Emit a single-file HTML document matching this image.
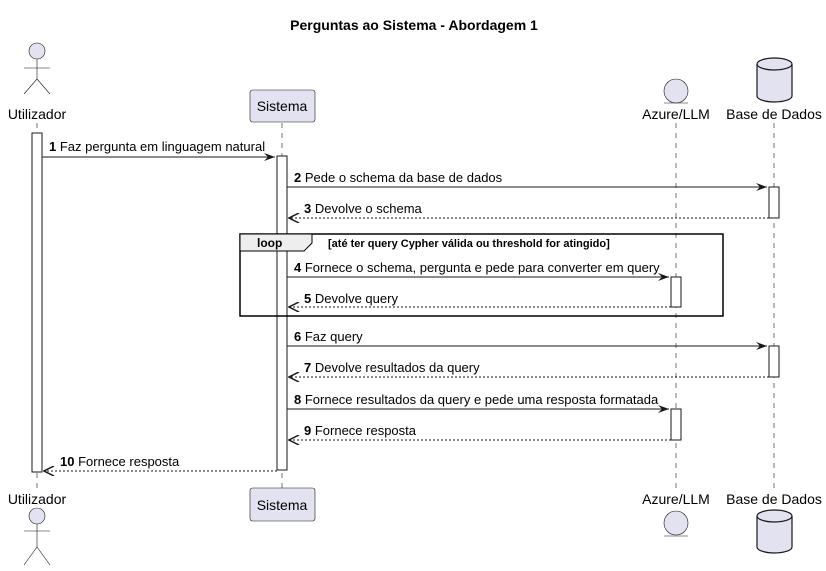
<!DOCTYPE html>
<html><head><meta charset="utf-8"><style>
html,body{margin:0;padding:0;background:#fff;}
svg{display:block;font-family:"Liberation Sans",sans-serif;}
</style></head><body>
<svg width="826" height="571" viewBox="0 0 826 571" xmlns="http://www.w3.org/2000/svg">
<defs>
<marker id="ah" markerWidth="12" markerHeight="10" refX="11" refY="5" orient="auto" markerUnits="userSpaceOnUse">
<path d="M0,1 L11,5 L0,9 L4,5 Z" fill="#181818"/>
</marker>
<marker id="ao" markerWidth="12" markerHeight="10" refX="11" refY="5" orient="auto" markerUnits="userSpaceOnUse">
<path d="M1,0 L11,5 L1,10" fill="none" stroke="#181818" stroke-width="1.5"/>
</marker>
</defs>
<text x="414" y="30" text-anchor="middle" font-size="14" font-weight="bold" fill="#000">Perguntas ao Sistema - Abordagem 1</text>

<g stroke="#181818" stroke-width="0.6" stroke-dasharray="5,5">
<line x1="37" y1="123" x2="37" y2="488"/>
<line x1="282" y1="123" x2="282" y2="488"/>
<line x1="676" y1="123" x2="676" y2="488"/>
<line x1="774" y1="123" x2="774" y2="488"/>
</g>

<g stroke="#181818" stroke-width="0.6" fill="#E2E2F0">
<circle cx="37" cy="51" r="8"/>
<line x1="37" y1="59" x2="37" y2="79"/>
<line x1="24" y1="68" x2="50" y2="68"/>
<line x1="37" y1="79" x2="24" y2="94"/>
<line x1="37" y1="79" x2="50" y2="94"/>
<rect x="250" y="90" width="65" height="32" rx="2.5"/>
<circle cx="676" cy="91" r="12"/>
<line x1="664" y1="103" x2="688" y2="103"/>
<path d="M757,64 A17.5,6 0 0 1 792,64 L792,96 A17.5,6 0 0 1 757,96 Z" stroke-width="1.2"/>
<path d="M757,64 A17.5,6 0 0 0 792,64" fill="none" stroke-width="1.2"/>
</g>
<g font-size="14" fill="#000" text-anchor="middle">
<text x="37" y="119">Utilizador</text>
<text x="282" y="111">Sistema</text>
<text x="676" y="119">Azure/LLM</text>
<text x="774" y="119">Base de Dados</text>
</g>

<g stroke="#181818" stroke-width="0.6" fill="#E2E2F0">
<circle cx="37" cy="516" r="8"/>
<line x1="37" y1="524" x2="37" y2="547"/>
<line x1="24" y1="531" x2="50" y2="531"/>
<line x1="37" y1="547" x2="24" y2="565"/>
<line x1="37" y1="547" x2="50" y2="565"/>
<rect x="250" y="488" width="65" height="33" rx="2.5"/>
<circle cx="676" cy="523" r="12"/>
<line x1="664" y1="536" x2="688" y2="536"/>
<path d="M757,516 A17.5,6 0 0 1 792,516 L792,547 A17.5,6 0 0 1 757,547 Z" stroke-width="1.2"/>
<path d="M757,516 A17.5,6 0 0 0 792,516" fill="none" stroke-width="1.2"/>
</g>
<g font-size="14" fill="#000" text-anchor="middle">
<text x="37" y="504">Utilizador</text>
<text x="282" y="510">Sistema</text>
<text x="676" y="504">Azure/LLM</text>
<text x="774" y="504">Base de Dados</text>
</g>

<g stroke="#181818" stroke-width="1" fill="#fff">
<rect x="32" y="133" width="10" height="339"/>
<rect x="277" y="156" width="10" height="314"/>
<rect x="769" y="187" width="10" height="31"/>
<rect x="769" y="346" width="10" height="31"/>
<rect x="671" y="277" width="10" height="30"/>
<rect x="671" y="409" width="10" height="31"/>
</g>

<rect x="240" y="234" width="483" height="82" fill="none" stroke="#000" stroke-width="1.5"/>
<path d="M240,234 L312,234 L312,243 L304,251 L240,251 Z" fill="#EEEEEE" stroke="#000" stroke-width="1"/>
<text x="257" y="247" font-size="12" font-weight="bold">loop</text>
<text x="328" y="247" font-size="11" font-weight="bold">[até ter query Cypher válida ou threshold for atingido]</text>

<g stroke="#181818" stroke-width="1" fill="none">
<line x1="42" y1="157" x2="275" y2="157" marker-end="url(#ah)"/>
<line x1="287" y1="187" x2="767" y2="187" marker-end="url(#ah)"/>
<line x1="769" y1="218" x2="289" y2="218" stroke-dasharray="2,2" marker-end="url(#ao)"/>
<line x1="287" y1="277" x2="669" y2="277" marker-end="url(#ah)"/>
<line x1="671" y1="307" x2="289" y2="307" stroke-dasharray="2,2" marker-end="url(#ao)"/>
<line x1="287" y1="346" x2="767" y2="346" marker-end="url(#ah)"/>
<line x1="769" y1="377" x2="289" y2="377" stroke-dasharray="2,2" marker-end="url(#ao)"/>
<line x1="287" y1="409" x2="669" y2="409" marker-end="url(#ah)"/>
<line x1="671" y1="440" x2="289" y2="440" stroke-dasharray="2,2" marker-end="url(#ao)"/>
<line x1="277" y1="471" x2="44" y2="471" stroke-dasharray="2,2" marker-end="url(#ao)"/>
</g>
<g font-size="13" fill="#000">
<text x="49" y="151"><tspan font-weight="bold">1</tspan> Faz pergunta em linguagem natural</text>
<text x="294" y="182"><tspan font-weight="bold">2</tspan> Pede o schema da base de dados</text>
<text x="304" y="213"><tspan font-weight="bold">3</tspan> Devolve o schema</text>
<text x="294" y="272"><tspan font-weight="bold">4</tspan> Fornece o schema, pergunta e pede para converter em query</text>
<text x="304" y="303"><tspan font-weight="bold">5</tspan> Devolve query</text>
<text x="294" y="341"><tspan font-weight="bold">6</tspan> Faz query</text>
<text x="304" y="372"><tspan font-weight="bold">7</tspan> Devolve resultados da query</text>
<text x="294" y="404"><tspan font-weight="bold">8</tspan> Fornece resultados da query e pede uma resposta formatada</text>
<text x="304" y="435"><tspan font-weight="bold">9</tspan> Fornece resposta</text>
<text x="60" y="466"><tspan font-weight="bold">10</tspan> Fornece resposta</text>
</g>
</svg>
</body></html>
